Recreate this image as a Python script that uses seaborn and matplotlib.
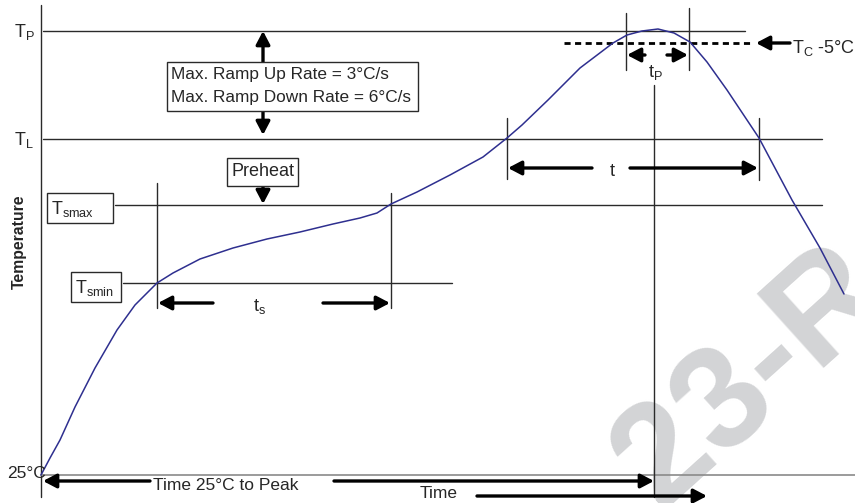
import matplotlib
matplotlib.use("Agg")
import matplotlib.pyplot as plt
import matplotlib.patches as patches
import seaborn as sns
import pandas as pd

# ---------------------- Data ---------------------- #
# picture units: time runs left->right, level runs top->bottom (pixel rows)
profile_time = [41, 50, 60, 75, 95, 117, 135, 157, 173, 200, 233, 267, 300,
                333, 360, 377, 391, 417, 450, 483, 507, 522, 548, 580, 613,
                627, 642, 658, 674, 690, 707, 727, 759, 792, 820, 844]
profile_level = [475, 458, 440, 407, 368, 330, 305, 283, 273, 259, 248, 239,
                 232, 224, 218, 213, 204, 192, 175, 157, 138, 125, 100, 68,
                 43, 35, 31, 29, 33, 42, 62, 90, 138, 200, 248, 294]

level_names = ["T_P", "T_L", "T_smax", "T_smin", "25C"]
level_values = [31, 139, 205, 283, 475]
tc_level = 43

ts_window = [157, 391]
tl_window = [507, 759]
tp_window = [626, 689]
peak_time = 654

# ---------------------- Style ---------------------- #
sns.set_theme(style="white")
plt.rcParams["font.family"] = ["Liberation Sans", "DejaVu Sans"]
plt.rcParams["mathtext.fontset"] = "custom"
plt.rcParams["mathtext.rm"] = "Liberation Sans"
plt.rcParams["mathtext.it"] = "Liberation Sans:italic"

LINE = "#2a2a2a"
CURVE = "#2e2f8f"
FS = 13


def arrow(ax, start, end):
    ax.annotate("", xy=end, xytext=start,
                arrowprops=dict(arrowstyle="-|>,head_length=0.8,head_width=0.42",
                                color="black", lw=2.4, shrinkA=0, shrinkB=0,
                                mutation_scale=10))


def box(ax, x0, y0, x1, y1):
    ax.add_patch(patches.Rectangle((x0, y0), x1 - x0, y1 - y0, facecolor="white",
                                   edgecolor=LINE, lw=1.0, zorder=4))


def main():
    fig = plt.figure(figsize=(8.55, 5.03), dpi=100)
    ax = fig.add_axes([0, 0, 1, 1])

    # watermark
    ax.text(752, 378, "23-R", fontsize=104, fontweight="bold", color="#d3d4d6",
            rotation=42, ha="center", va="center", rotation_mode="anchor",
            zorder=0, clip_on=True)

    levels = dict(zip(level_names, level_values))

    # axis and level lines
    ax.plot([41, 41], [5, 497], color=LINE, lw=1.0)
    ax.plot([43, 745], [levels["T_P"]] * 2, color=LINE, lw=1.0)
    ax.plot([43, 822], [levels["T_L"]] * 2, color=LINE, lw=1.0)
    ax.plot([115, 822], [levels["T_smax"]] * 2, color=LINE, lw=1.0)
    ax.plot([123, 452], [levels["T_smin"]] * 2, color=LINE, lw=1.0)
    ax.plot([41, 855], [levels["25C"]] * 2, color="#8a8a8a", lw=1.2)
    ax.plot([564, 752], [tc_level] * 2, color="black", lw=2.0, ls=(0, (2.2, 1.6)))

    # vertical markers
    ax.plot([ts_window[0]] * 2, [183, 308], color=LINE, lw=1.0)
    ax.plot([ts_window[1]] * 2, [193, 308], color=LINE, lw=1.0)
    ax.plot([tl_window[0]] * 2, [118, 179], color=LINE, lw=1.0)
    ax.plot([tl_window[1]] * 2, [118, 180], color=LINE, lw=1.0)
    ax.plot([tp_window[0]] * 2, [13, 70], color=LINE, lw=1.0)
    ax.plot([tp_window[1]] * 2, [8, 70], color=LINE, lw=1.0)
    ax.plot([peak_time] * 2, [85, 497], color=LINE, lw=1.0)

    # reflow profile
    df = pd.DataFrame({"time": profile_time, "level": profile_level})
    sns.lineplot(data=df, x="time", y="level", sort=False, color=CURVE, lw=1.1,
                 ax=ax, zorder=3)
    ax.set_xlim(0, 855)
    ax.set_ylim(503, 0)
    ax.axis("off")

    # boxes
    box(ax, 167, 62, 418, 111)
    ax.text(171, 74, "Max. Ramp Up Rate = 3°C/s", fontsize=12.4, va="center", zorder=5)
    ax.text(171, 97, "Max. Ramp Down Rate = 6°C/s", fontsize=12.4, va="center", zorder=5)
    box(ax, 227, 158, 298, 186)
    ax.text(262.5, 171, "Preheat", fontsize=FS, ha="center", va="center", zorder=5)
    box(ax, 47, 193, 113, 223)
    ax.text(51, 209, r"$\mathrm{T_{smax}}$", fontsize=FS, va="center", zorder=5)
    box(ax, 71, 272, 121, 302)
    ax.text(75, 288, r"$\mathrm{T_{smin}}$", fontsize=FS, va="center", zorder=5)

    # arrows
    arrow(ax, (263, 62), (263, levels["T_P"]))
    arrow(ax, (263, 111), (263, levels["T_L"] - 4))
    arrow(ax, (263, 186), (263, levels["T_smax"] - 1))
    arrow(ax, (213, 303), (ts_window[0] + 1, 303))
    arrow(ax, (323, 303), (ts_window[1] - 1, 303))
    arrow(ax, (592, 168), (tl_window[0] + 1, 168))
    arrow(ax, (630, 168), (tl_window[1] - 1, 168))
    arrow(ax, (645, 55), (tp_window[0] + 1, 55))
    arrow(ax, (667, 55), (tp_window[1] - 1, 55))
    arrow(ax, (790, 43), (756, 43))
    arrow(ax, (150, 481), (43, 481))
    arrow(ax, (334, 481), (peak_time, 481))
    arrow(ax, (477, 496), (707, 496))

    # labels
    ax.text(14, 32, r"$\mathrm{T_P}$", fontsize=FS, va="center")
    ax.text(14, 140, r"$\mathrm{T_L}$", fontsize=FS, va="center")
    ax.text(7, 474, "25°C", fontsize=12.5, va="center")
    ax.text(260, 306, r"$\mathrm{t_s}$", fontsize=FS, ha="center", va="center")
    ax.text(612, 171, "t", fontsize=FS, ha="center", va="center")
    ax.text(655, 72, r"$\mathrm{t_P}$", fontsize=FS, ha="center", va="center")
    ax.text(792, 48, r"$\mathrm{T_C}$ -5°C", fontsize=FS, va="center")
    ax.text(153, 486, "Time 25°C to Peak", fontsize=12.5, va="center")
    ax.text(420, 494, "Time", fontsize=12.5, va="center")
    ax.text(19, 242, "Temperature", fontsize=11.3, fontweight="bold", rotation=90,
            ha="center", va="center")

    fig.savefig("out.png", dpi=100)


if __name__ == "__main__":
    main()
